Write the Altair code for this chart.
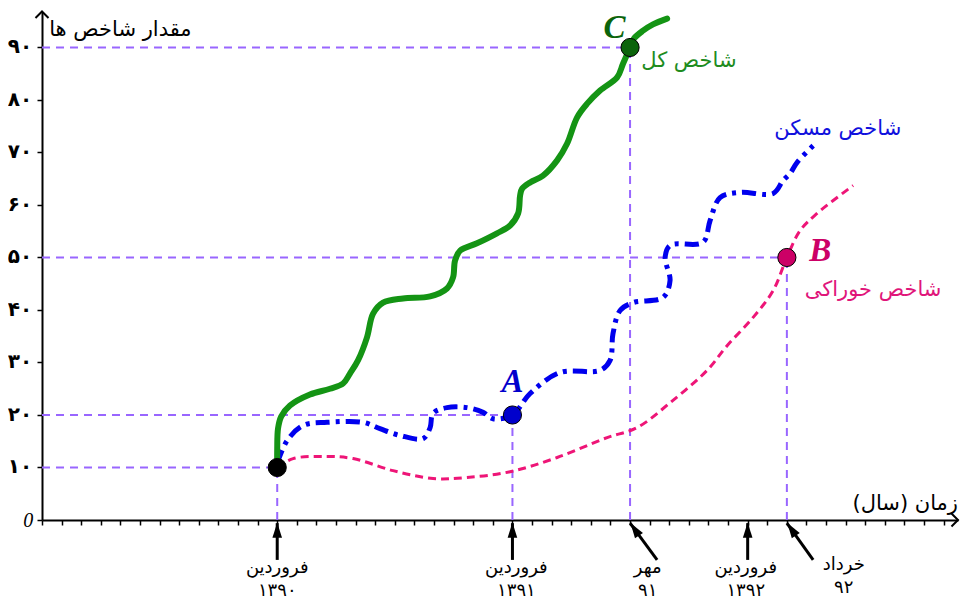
import altair as alt
import pandas as pd

# x = months counted from the start of the time axis (12 = Farvardin 1390), y = index value
green_x = [12.0, 12.0, 12.04, 12.2, 12.65, 13.67, 14.69, 15.36, 15.71, 16.12, 16.58, 16.89, 17.4, 18.42,
           19.8, 20.66, 20.97, 21.07, 21.33, 22.19, 23.21, 23.88, 24.29, 24.39, 24.49, 24.9, 25.56, 26.28,
           26.79, 27.3, 27.81, 28.47, 29.34, 29.64, 30.0, 30.2, 30.66, 31.17, 31.89]
green_y = [10.0, 13.6, 17.4, 19.7, 21.8, 23.9, 25.0, 26.0, 27.9, 30.4, 34.8, 39.3, 41.4, 42.2,
           42.6, 44.1, 46.2, 49.4, 51.3, 52.7, 54.6, 56.1, 58.4, 61.8, 63.1, 64.3, 65.6, 68.5,
           71.7, 76.7, 79.3, 81.8, 84.3, 86.9, 90.0, 91.7, 93.2, 94.4, 95.5]

blue_x = [12.0, 12.5, 13.32, 14.54, 16.38, 17.24, 18.27, 19.44, 19.8, 19.95, 20.66, 21.68, 22.5, 23.01,
          24.0, 24.9, 26.43, 28.47, 28.98, 29.13, 29.49, 30.15, 31.68, 32.04, 31.79, 32.04, 33.72,
          34.08, 34.59, 35.61, 37.3, 37.81, 38.16, 38.52, 39.34]
blue_y = [10.8, 15.1, 18.0, 18.6, 18.6, 17.4, 16.1, 15.5, 17.6, 20.3, 21.4, 21.4, 20.5, 19.3,
          20.0, 24.1, 28.1, 28.5, 30.4, 35.5, 39.9, 41.4, 42.4, 45.6, 50.0, 52.3, 52.9,
          57.0, 61.4, 62.4, 62.2, 64.7, 66.0, 68.1, 71.3]

pink_x = [12.0, 12.81, 14.54, 15.87, 17.91, 19.95, 21.68, 23.88, 26.28, 28.83, 30.36, 32.19, 33.93,
          34.95, 36.28, 37.3, 38.0, 38.67, 39.54, 41.38]
pink_y = [10.0, 11.7, 12.1, 11.7, 9.4, 7.9, 8.1, 9.2, 11.9, 15.7, 17.6, 22.8, 28.5,
          33.2, 38.6, 43.7, 50.0, 55.1, 58.4, 63.7]

# marked points
pt_x = [12, 24, 38, 30]
pt_y = [10, 20, 50, 90]
pt_color = ["#000000", "#0000CC", "#CC0066", "#0B640B"]
pt_name = ["", "A", "B", "C"]

# guide lines (to axes)
h_y = [10, 20, 50, 90]
h_x_end = [12, 24, 38, 30]

# y tick labels
ytick_vals = [10, 20, 30, 40, 50, 60, 70, 80, 90]
ytick_text = ["۱۰", "۲۰", "۳۰", "۴۰", "۵۰", "۶۰", "۷۰", "۸۰", "۹۰"]

# time annotations below the x axis
ann_x = [12, 24, 30, 36, 38]
ann_line1 = ["فروردین", "فروردین", "مهر", "فروردین", "خرداد"]
ann_line2 = ["۱۳۹۰", "۱۳۹۱", "۹۱", "۱۳۹۲", "۹۲"]

X_MAX = 46.73
Y_MAX = 96.76

xs = alt.Scale(domain=[0, X_MAX], nice=False, zero=False)
ys = alt.Scale(domain=[0, Y_MAX], nice=False, zero=False)
xaxis = alt.Axis(values=list(range(0, 47)), labels=False, ticks=True, tickSize=5, tickColor="black",
                 tickWidth=1.5, domainColor="black", domainWidth=2, grid=False, title="")
yaxis = alt.Axis(values=[0] + ytick_vals, labels=False, ticks=True, tickSize=5, tickColor="black",
                 tickWidth=1.5, domainColor="black", domainWidth=2, grid=False, title="")


def X(f="x"):
    return alt.X(f + ":Q", scale=xs, axis=xaxis)


def Y(f="y"):
    return alt.Y(f + ":Q", scale=ys, axis=yaxis)


FA = "DejaVu Sans"

# dashed guides
hdf = pd.DataFrame({"x0": [0] * 4, "x": h_x_end, "y": h_y})
hguides = alt.Chart(hdf).mark_rule(color="#9966FF", strokeWidth=2, strokeDash=[8, 6]).encode(
    x=X("x0"), x2="x:Q", y=Y("y"))
vguides = alt.Chart(hdf).mark_rule(color="#9966FF", strokeWidth=2, strokeDash=[8, 6]).encode(
    x=X("x"), y=Y("x0"), y2="y:Q")


def line_df(xv, yv):
    return pd.DataFrame({"x": xv, "y": yv, "i": list(range(len(xv)))})


green = alt.Chart(line_df(green_x, green_y)).mark_line(
    color="#149414", strokeWidth=6, interpolate="catmull-rom", strokeCap="round", strokeJoin="round").encode(
    x=X(), y=Y(), order="i:Q")
blue = alt.Chart(line_df(blue_x, blue_y)).mark_line(
    color="#0000EE", strokeWidth=5, interpolate="catmull-rom", strokeDash=[14, 6, 4, 6]).encode(
    x=X(), y=Y(), order="i:Q")
pink = alt.Chart(line_df(pink_x, pink_y)).mark_line(
    color="#EE1577", strokeWidth=3, interpolate="catmull-rom", strokeDash=[8, 5]).encode(
    x=X(), y=Y(), order="i:Q")

pdf = pd.DataFrame({"x": pt_x, "y": pt_y, "c": pt_color, "n": pt_name})
points = alt.Chart(pdf).mark_circle(size=330, opacity=1, stroke="black", strokeWidth=1).encode(
    x=X(), y=Y(), color=alt.Color("c:N", scale=None))

# point letters
ldf = pd.DataFrame({"x": [24.0, 39.7, 29.2], "y": [26.2, 51.2, 93.7], "t": ["A", "B", "C"],
                    "c": ["#0000CC", "#CC0066", "#0B640B"]})
letters = alt.Chart(ldf).mark_text(font="Liberation Serif", fontStyle="italic", fontWeight="bold",
                                    fontSize=33, align="center", baseline="middle").encode(
    x=X(), y=Y(), text="t:N", color=alt.Color("c:N", scale=None))

# series labels
sdf = pd.DataFrame({"x": [33.0, 40.6, 42.4], "y": [87.4, 74.4, 43.9],
                    "t": ["شاخص کل", "شاخص مسکن", "شاخص خوراکی"],
                    "c": ["#1E8C1E", "#1010DD", "#E0157A"]})
slabels = alt.Chart(sdf).mark_text(font=FA, fontSize=21, align="center", baseline="middle").encode(
    x=X(), y=Y(), text="t:N", color=alt.Color("c:N", scale=None))

# axis titles
tdf = pd.DataFrame({"x": [4.0, 46.73], "y": [93.3, 3.0], "t": ["مقدار شاخص ها", "زمان   (سال)"]})
atitle1 = alt.Chart(tdf.iloc[[0]]).mark_text(font=FA, fontSize=21, align="center", baseline="middle",
                                              color="black").encode(x=X(), y=Y(), text="t:N")
atitle2 = alt.Chart(tdf.iloc[[1]]).mark_text(font=FA, fontSize=21, align="right", baseline="middle",
                                              color="black").encode(x=X(), y=Y(), text="t:N")

ydf = pd.DataFrame({"x": [-0.5] * len(ytick_vals), "y": ytick_vals, "t": ytick_text})
ylabels = alt.Chart(ydf).mark_text(font=FA, fontSize=20, fontWeight="bold", align="right",
                                    baseline="middle", color="black").encode(x=X(), y=Y(), text="t:N")
zdf = pd.DataFrame({"x": [-0.7], "y": [-0.2], "t": ["0"]})
zero = alt.Chart(zdf).mark_text(font="Liberation Serif", fontStyle="italic", fontSize=20, align="center",
                                 baseline="middle", color="black").encode(x=X(), y=Y(), text="t:N")

# arrows under the axis
arr_base_x = [12, 24, 31.38, 36, 39.34]
arr_head_x = [12, 24, 30.25, 36, 38.25]
arr_angle = [0, 0, 326, 0, 326]
adf = pd.DataFrame({"xb": arr_base_x, "yb": [-7.6] * 5, "xt": ann_x, "yt": [-0.6] * 5,
                    "xh": arr_head_x, "yh": [-2.0, -2.0, -1.85, -2.0, -1.85], "a": arr_angle})
shafts = alt.Chart(adf).mark_rule(color="black", strokeWidth=3).encode(
    x=X("xb"), y=Y("yb"), x2="xt:Q", y2="yt:Q")
heads = alt.Chart(adf).mark_point(shape="M0,-1L0.6,0.9L-0.6,0.9Z", filled=True, color="black",
                                  size=256, opacity=1).encode(
    x=X("xh"), y=Y("yh"), angle=alt.Angle("a:Q", scale=None))

bl_x = [12, 24.2, 30.9, 35.9, 40.9]
bdf1 = pd.DataFrame({"x": bl_x, "y": [-9.2, -9.2, -9.2, -9.2, -8.6], "t": ann_line1})
bdf2 = pd.DataFrame({"x": bl_x, "y": [-13.55, -13.55, -13.55, -13.55, -12.95], "t": ann_line2})
blab1 = alt.Chart(bdf1).mark_text(font=FA, fontSize=18, align="center", baseline="middle",
                                  color="black").encode(x=X(), y=Y(), text="t:N")
blab2 = alt.Chart(bdf2).mark_text(font=FA, fontSize=18, align="center", baseline="middle",
                                  color="black").encode(x=X(), y=Y(), text="t:N")

# axis end chevrons
cdf1 = pd.DataFrame({"x": [0], "y": [96.86]})
cdf2 = pd.DataFrame({"x": [X_MAX], "y": [0]})
chev_y = alt.Chart(cdf1).mark_point(shape="M-1,1L0,0L1,1", filled=False, color="black", strokeWidth=2,
                                    size=170, opacity=1).encode(x=X(), y=Y())
chev_x = alt.Chart(cdf2).mark_point(shape="M-1,-1L0,0L-1,1", filled=False, color="black", strokeWidth=2,
                                    size=170, opacity=1).encode(x=X(), y=Y())

chart = alt.layer(
    hguides, vguides, pink, blue, green, points, letters, slabels, atitle1, atitle2, ylabels, zero,
    shafts, heads, blab1, blab2, chev_y, chev_x
).properties(
    width=916, height=508,
    autosize=alt.AutoSizeParams(type="none"),
    padding={"left": 34, "top": 4, "right": 2, "bottom": 82},
    background="white",
).configure_view(stroke=None)

chart.save("out.html", embed_options={"renderer": "svg", "actions": False})
